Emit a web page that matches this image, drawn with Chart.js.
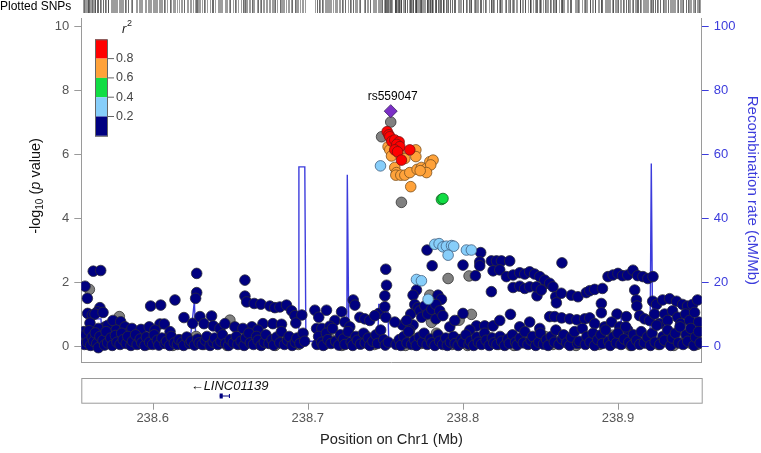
<!DOCTYPE html>
<html>
<head>
<meta charset="utf-8">
<script src="https://cdn.jsdelivr.net/npm/chart.js@4.4.0/dist/chart.umd.min.js"></script>
<style>
  body { margin: 0; background: #fff; }
  canvas { display: block; }
</style>
</head>
<body>
<canvas id="locus" width="761" height="453"></canvas>
<script>
// region shown (Mb on chr1)
var regionStart = 238.554, regionEnd = 238.954;
var xTicks = [238.6, 238.7, 238.8, 238.9];

// index SNP
var indexSnp = { name: 'rs559047', pos: 238.7535, logp: 7.34 };

// r2 legend
var r2Breaks = [0.2, 0.4, 0.6, 0.8];
var r2Colors = ['#000080', '#87CEFA', '#11DD44', '#FFA23A', '#FF0000'];

// SNPs by LD class: [position Mb, -log10 p]
var snpRed = [[238.7512,6.70],[238.7523,6.60],[238.7529,6.54],[238.7542,6.40],[238.7561,6.44],[238.7589,6.38],
  [238.7574,6.30],[238.7594,6.23],[238.7561,6.13],[238.7579,6.07],[238.7658,6.13],[238.7604,5.81]];

var snpOrange = [[238.7518,6.23],[238.7529,6.13],[238.7540,5.94],[238.7589,6.02],[238.7626,5.86],[238.7697,6.13],
  [238.7697,5.92],[238.7561,5.58],[238.7572,5.42],[238.7568,5.34],[238.7600,5.34],[238.7626,5.34],[238.7658,5.42],
  [238.7705,5.52],[238.7733,5.58],[238.7766,5.55],[238.7787,5.76],[238.7808,5.81],[238.7793,5.66],[238.7766,5.42],
  [238.7725,5.48],[238.7664,4.98]];

var snpGreen = [[238.7862,4.58],[238.7872,4.61]];

var snpLightBlue = [[238.7469,5.63],[238.7819,3.18],[238.7847,3.20],[238.7872,3.10],[238.7894,3.12],[238.7927,3.14],
  [238.7941,3.12],[238.7905,2.84],[238.8023,3.00],[238.8055,3.00],[238.7701,2.08],[238.7733,2.04],[238.7776,1.46]];

var snpGray = [[238.5592,1.77],[238.5785,0.92],[238.6498,0.81],[238.7604,4.49],[238.7905,2.11],[238.8040,2.19],
  [238.7798,0.74],[238.7976,0.81],[238.8055,0.99],[238.7535,7.00],[238.7476,6.54],[238.8968,0.34],[238.8646,0.19],
  [238.7787,1.59],
  [238.558,0.05],[238.563,0.20],[238.571,0.30],[238.575,0.08],[238.582,0.15],[238.591,0.12],[238.597,0.05],
  [238.602,0.25],[238.607,0.10],[238.613,0.02],[238.618,0.18],[238.623,0.08],[238.628,0.30],[238.633,0.05],
  [238.638,0.20],[238.643,0.10],[238.648,0.02],[238.653,0.15],[238.658,0.08],[238.664,0.25],[238.669,0.05],
  [238.674,0.15],[238.679,0.02],[238.684,0.20],[238.689,0.10],[238.694,0.05],[238.708,0.15],[238.711,0.05],
  [238.714,0.25],[238.719,0.10],[238.722,0.02],[238.727,0.20],[238.733,0.08],[238.738,0.30],[238.743,0.05],
  [238.748,0.15],[238.758,0.10],[238.763,0.02],[238.768,0.25],[238.773,0.08],[238.778,0.15],[238.783,0.40],
  [238.788,0.10],[238.793,0.05],[238.798,0.20],[238.803,0.02],[238.808,0.15],[238.813,0.08],[238.818,0.25],
  [238.823,0.05],[238.828,0.12],[238.833,0.02],[238.838,0.20],[238.843,0.08],[238.848,0.15],[238.853,0.30],
  [238.858,0.05],[238.863,0.12],[238.868,0.20],[238.873,0.02],[238.878,0.10],[238.883,0.25],[238.888,0.05],
  [238.893,0.15],[238.898,0.30],[238.903,0.08],[238.908,0.02],[238.913,0.20],[238.918,0.10],[238.921,0.30],
  [238.926,0.05],[238.931,0.15],[238.936,0.02],[238.941,0.25],[238.946,0.10],[238.951,0.05]];

var snpNavy = [
  // upper scatter
  [238.5564,1.87],[238.5579,1.49],[238.5617,2.34],[238.5665,2.36],[238.5660,1.20],[238.5643,1.07],[238.5581,1.02],
  [238.5611,0.97],[238.5628,1.00],[238.5680,1.05],[238.5693,0.60],[238.5650,0.55],[238.5596,0.72],[238.5557,0.45],
  [238.5712,0.65],[238.5744,0.80],[238.5794,0.76],[238.5764,0.50],[238.5822,0.60],[238.5843,0.40],[238.5867,0.55],
  [238.5925,0.52],[238.5978,0.60],[238.5987,1.25],[238.6052,1.28],[238.6047,0.69],[238.6075,0.69],[238.6015,0.50],
  [238.6144,1.44],[238.6112,0.45],[238.6202,0.89],[238.6284,2.27],[238.6284,1.67],[238.6277,1.49],[238.6258,0.71],
  [238.6305,0.92],[238.6331,0.70],[238.6380,0.94],[238.6391,0.63],[238.6434,0.55],[238.6466,0.70],[238.6530,0.60],
  [238.6595,2.06],[238.6595,1.56],[238.6606,1.38],[238.6655,1.33],[238.6698,1.31],[238.6756,1.25],[238.6788,1.20],
  [238.6820,1.22],[238.6863,1.28],[238.6711,0.70],[238.6775,0.70],[238.6831,0.68],[238.6896,1.10],[238.6917,0.95],
  [238.6962,0.97],[238.6923,0.72],[238.6640,0.60],[238.6679,0.50],[238.6582,0.55],
  [238.7046,1.12],[238.7121,1.12],[238.7218,1.07],[238.7293,1.44],[238.7304,1.28],[238.7458,1.02],[238.7057,0.55],
  [238.7091,0.55],[238.7175,0.80],[238.7239,0.75],[238.7336,0.90],[238.7368,0.85],[238.7400,0.80],[238.7432,0.95],
  [238.7271,0.60],[238.7142,0.62],[238.7071,0.90],[238.7503,2.40],[238.7508,1.90],[238.7497,1.57],[238.7497,1.23],
  [238.7503,0.90],[238.7701,1.75],[238.7679,1.59],[238.7840,1.59],[238.7862,1.46],[238.7611,0.66],[238.7679,0.66],
  [238.7769,3.00],[238.7802,2.51],[238.8115,2.92],[238.8001,2.53],[238.8109,2.63],[238.8109,2.51],[238.8081,2.20],
  [238.8184,2.66],[238.8217,2.66],[238.8249,2.66],[238.8302,2.66],[238.8195,2.35],[238.8238,2.38],[238.8281,2.17],
  [238.8324,2.22],[238.8367,2.29],[238.8399,2.25],[238.8431,2.32],[238.8463,2.25],[238.8496,2.17],[238.8539,1.96],
  [238.8324,1.83],[238.8367,1.87],[238.8399,1.80],[238.8431,1.85],[238.8478,1.57],[238.8184,1.70],[238.8001,1.02],
  [238.8088,0.63],[238.8141,0.63],[238.8195,0.63],[238.8307,0.99],
  [238.7664,1.00],[238.7690,1.30],[238.7710,1.20],[238.7723,1.10],[238.7735,0.90],[238.7755,1.25],[238.7774,1.00],
  [238.7800,1.15],[238.7826,1.30],[238.7826,0.85],[238.7851,1.10],[238.7871,0.95],[238.7638,0.80],[238.7657,0.50],
  [238.7561,0.75],[238.7916,0.60],[238.7948,0.80],[238.8045,0.50],[238.8238,0.80],[238.8367,0.60],[238.8431,0.75],
  [238.8496,0.55],
  [238.8639,2.60],[238.8936,2.17],[238.8968,2.22],[238.9000,2.27],[238.9030,2.20],[238.9063,2.22],[238.9097,2.37],
  [238.9127,2.20],[238.9161,2.17],[238.9193,2.11],[238.9226,2.17],[238.8528,2.06],[238.8560,1.96],[238.8581,1.85],
  [238.8474,1.85],[238.8506,1.75],[238.8599,1.54],[238.8603,1.35],[238.8635,1.65],[238.8700,1.59],[238.8742,1.54],
  [238.8796,1.67],[238.8818,1.73],[238.8850,1.77],[238.8900,1.80],[238.8893,1.33],[238.8893,1.04],[238.8994,1.00],
  [238.9054,0.92],[238.9108,1.75],[238.9119,1.44],[238.9122,1.25],[238.9140,0.95],[238.9172,0.85],
  [238.9224,1.40],[238.9249,1.30],[238.9288,1.44],[238.9333,1.48],[238.9378,1.40],[238.9417,1.30],[238.9449,1.25],
  [238.9481,1.30],[238.9513,1.44],[238.8560,0.92],[238.8592,0.92],[238.8637,0.88],[238.8689,0.85],[238.8735,0.82],
  [238.8786,0.85],[238.8818,0.88],[238.8850,0.70],[238.8914,0.60],[238.8959,0.75],[238.9011,0.60],[238.9063,0.50],
  [238.9204,0.80],[238.9236,1.00],[238.9268,0.70],[238.9301,1.00],[238.9320,0.80],[238.9352,1.10],[238.9385,0.90],
  [238.9404,0.70],[238.9436,1.00],[238.9462,0.80],[238.9494,1.05],[238.9520,0.75],
  // low band
  [238.555,0.22],[238.556,0.05],[238.557,0.35],[238.558,0.12],[238.559,0.48],[238.560,0.02],[238.561,0.28],
  [238.562,0.15],[238.563,0.41],[238.564,0.08],[238.565,-0.05],[238.566,0.30],[238.568,0.18],[238.569,0.03],
  [238.570,0.45],[238.571,0.10],[238.573,0.25],[238.574,0.02],[238.576,0.33],[238.577,0.12],[238.579,0.05],
  [238.580,0.40],[238.581,0.20],[238.583,0.08],[238.584,0.30],[238.586,0.02],[238.587,0.15],[238.589,0.35],
  [238.590,0.05],[238.592,0.22],[238.593,0.10],[238.595,0.02],[238.596,0.28],[238.598,0.12],[238.600,0.05],
  [238.601,0.35],[238.603,0.18],[238.604,0.03],[238.606,0.25],[238.608,0.08],[238.609,0.15],[238.611,0.02],
  [238.612,0.30],[238.614,0.10],[238.616,0.05],[238.617,0.20],[238.619,0.12],[238.620,0.02],[238.622,0.28],
  [238.624,0.08],[238.625,0.15],[238.627,0.03],[238.629,0.22],[238.630,0.10],[238.632,0.05],[238.634,0.18],
  [238.635,0.30],[238.637,0.02],[238.639,0.12],[238.640,0.25],[238.642,0.05],[238.644,0.15],[238.645,0.35],
  [238.647,0.08],[238.649,0.02],[238.650,0.20],[238.652,0.10],[238.654,0.30],[238.655,0.05],[238.657,0.15],
  [238.659,0.02],[238.660,0.25],[238.662,0.40],[238.663,0.10],[238.665,0.05],[238.667,0.30],[238.668,0.18],
  [238.670,0.02],[238.672,0.12],[238.673,0.35],[238.675,0.08],[238.677,0.20],[238.678,0.03],[238.680,0.28],
  [238.682,0.10],[238.683,0.45],[238.685,0.05],[238.687,0.18],[238.688,0.30],[238.690,0.02],[238.692,0.12],
  [238.693,0.25],[238.695,0.08],[238.697,0.40],[238.698,0.15],
  [238.706,0.05],[238.707,0.30],[238.709,0.12],[238.710,0.02],[238.712,0.40],[238.713,0.20],[238.715,0.08],
  [238.716,0.55],[238.718,0.15],[238.720,0.03],[238.721,0.35],[238.723,0.22],[238.724,0.05],[238.726,0.45],
  [238.728,0.12],[238.729,0.02],[238.731,0.30],[238.732,0.18],[238.734,0.06],[238.736,0.40],[238.737,0.10],
  [238.739,0.25],[238.740,0.02],[238.742,0.15],[238.744,0.35],[238.745,0.08],[238.747,0.50],[238.749,0.20],
  [238.750,0.03],[238.752,0.12],
  [238.757,0.05],[238.759,0.20],[238.760,0.02],[238.762,0.30],[238.764,0.10],[238.765,0.45],[238.767,0.05],
  [238.769,0.18],[238.770,0.02],[238.772,0.28],[238.774,0.12],[238.775,0.40],[238.777,0.05],[238.779,0.22],
  [238.780,0.10],[238.782,0.02],[238.784,0.35],[238.785,0.15],[238.787,0.05],[238.789,0.25],[238.790,0.02],
  [238.792,0.12],[238.794,0.30],[238.795,0.08],[238.797,0.02],[238.799,0.20],[238.800,0.10],[238.802,0.35],
  [238.804,0.05],[238.805,0.15],[238.807,0.02],[238.809,0.28],[238.810,0.12],[238.812,0.05],[238.814,0.40],
  [238.815,0.18],[238.817,0.02],[238.819,0.25],[238.820,0.10],[238.822,0.05],[238.824,0.30],[238.825,0.15],
  [238.827,0.02],[238.829,0.22],[238.830,0.08],[238.832,0.35],[238.834,0.12],[238.835,0.03],[238.837,0.25],
  [238.839,0.10],[238.840,0.45],[238.842,0.05],[238.844,0.18],[238.845,0.30],[238.847,0.02],[238.849,0.12],
  [238.850,0.40],[238.852,0.06],[238.854,0.20],[238.855,0.02],[238.857,0.30],[238.859,0.12],[238.860,0.50],
  [238.862,0.05],[238.864,0.22],[238.865,0.35],[238.867,0.10],[238.869,0.02],[238.870,0.28],[238.872,0.45],
  [238.874,0.08],[238.875,0.15],[238.877,0.55],[238.879,0.05],[238.880,0.30],[238.882,0.12],[238.884,0.40],
  [238.885,0.02],[238.887,0.20],[238.889,0.35],[238.890,0.08],[238.892,0.50],[238.894,0.15],[238.895,0.02],
  [238.897,0.28],[238.899,0.10],[238.900,0.40],[238.902,0.05],[238.904,0.22],[238.905,0.60],[238.907,0.12],
  [238.909,0.02],[238.910,0.35],[238.912,0.18],[238.914,0.05],[238.915,0.45],[238.917,0.10],[238.919,0.28],
  [238.921,0.02],[238.922,0.40],[238.924,0.12],[238.925,0.65],[238.927,0.05],[238.929,0.30],[238.930,0.18],
  [238.932,0.50],[238.934,0.02],[238.935,0.25],[238.937,0.40],[238.939,0.10],[238.940,0.60],[238.942,0.05],
  [238.944,0.35],[238.945,0.15],[238.947,0.55],[238.949,0.02],[238.950,0.28],[238.952,0.45],[238.953,0.10]
];

// recombination rate (cM/Mb)
var recombPos = [238.554, 238.5615, 238.5622, 238.5667, 238.5673, 238.6240, 238.6269, 238.6279, 238.6940, 238.6943,
  238.6981, 238.6988, 238.7252, 238.7255, 238.7265, 238.7452, 238.7458, 238.7516, 238.7523, 238.8882, 238.9011,
  238.9021, 238.9027, 238.9207, 238.9215, 238.9224, 238.954];
var recombRate = [0.8, 0.8, 8.5, 8.5, 1.0, 1.0, 14, 1.0, 1.0, 56,
  56, 1.5, 1.5, 53.5, 3, 3, 13, 13, 0.5, 0.8, 0.8,
  9, 0.8, 1, 57, 1, 0.5];

// gene track
var geneName = 'LINC01139';
var geneStart = 238.6432, geneEnd = 238.6495, exonEnd = 238.6452;

var FONT = '"Liberation Sans", Arial, Helvetica, sans-serif';
var BLUE = '#3c3cdc';

function pts(arr) {
  return arr.map(function (d) { return { x: d[0], y: d[1] }; });
}
function recombPts() {
  return recombPos.map(function (p, i) { return { x: p, y: recombRate[i] }; });
}

var extras = {
  id: 'extras',
  afterDraw: function (chart) {
    var c = chart.ctx, xs = chart.scales.x, ys = chart.scales.y, area = chart.chartArea;
    c.save();

    // rug of plotted SNPs
    c.fillStyle = '#000';
    c.font = '12px ' + FONT;
    c.textBaseline = 'middle';
    c.textAlign = 'left';
    c.fillText('Plotted SNPs', 0, 6.5);
    c.strokeStyle = 'rgba(60,60,60,0.5)';
    c.lineWidth = 1;
    [snpNavy, snpGray, snpLightBlue, snpGreen, snpOrange, snpRed].forEach(function (set) {
      set.forEach(function (d) {
        var px = Math.round(xs.getPixelForValue(d[0])) + 0.5;
        c.beginPath(); c.moveTo(px, 0); c.lineTo(px, 13); c.stroke();
      });
    });

    // index SNP label
    c.fillStyle = '#000';
    c.font = '12px ' + FONT;
    c.textAlign = 'center';
    c.fillText(indexSnp.name, xs.getPixelForValue(indexSnp.pos) + 2, ys.getPixelForValue(indexSnp.logp) - 14);

    // r2 colour bar
    var bx = 95, bw = 12, bh = 19.3, btop = 39.3;
    for (var i = 0; i < r2Colors.length; i++) {
      c.fillStyle = r2Colors[r2Colors.length - 1 - i];
      c.fillRect(bx, btop + i * bh, bw, bh);
    }
    c.strokeStyle = '#666';
    c.strokeRect(bx + 0.5, btop + 0.5, bw, bh * 5);
    c.fillStyle = '#444';
    c.font = '12.5px ' + FONT;
    c.textAlign = 'left';
    for (var j = 0; j < r2Breaks.length; j++) {
      var yy = btop + (r2Breaks.length - j) * bh;
      c.strokeStyle = '#666';
      c.beginPath(); c.moveTo(bx + bw, yy); c.lineTo(bx + bw + 7, yy); c.stroke();
      c.fillText(r2Breaks[j].toFixed(1), bx + bw + 9, yy);
    }
    c.font = 'italic 13px ' + FONT;
    c.fillStyle = '#222';
    c.fillText('r', 122, 29);
    c.font = '9px ' + FONT;
    c.fillText('2', 127, 24);

    // left axis title with subscript and italic p
    c.save();
    c.translate(36, 186);
    c.rotate(-Math.PI / 2);
    c.fillStyle = '#111';
    var parts = [
      ['-log', '14.5px ' + FONT, 0],
      ['10', '10px ' + FONT, 4],
      [' (', '14.5px ' + FONT, 0],
      ['p', 'italic 14.5px ' + FONT, 0],
      [' value)', '14.5px ' + FONT, 0]
    ];
    var total = 0;
    parts.forEach(function (p) { c.font = p[1]; total += c.measureText(p[0]).width; });
    var x0 = -total / 2;
    c.textAlign = 'left';
    c.textBaseline = 'middle';
    parts.forEach(function (p) {
      c.font = p[1];
      c.fillText(p[0], x0, p[2]);
      x0 += c.measureText(p[0]).width;
    });
    c.restore();

    // gene panel
    var gTop = 378, gBot = 402.7;
    c.strokeStyle = '#9a9a9a';
    c.lineWidth = 1;
    c.strokeRect(area.left + 0.5, gTop + 0.5, area.right - area.left, gBot - gTop);
    xTicks.forEach(function (t) {
      var px = Math.round(xs.getPixelForValue(t)) + 0.5;
      c.beginPath(); c.moveTo(px, gBot + 0.5); c.lineTo(px, gBot + 7); c.stroke();
    });
    var g0 = xs.getPixelForValue(geneStart), g1 = xs.getPixelForValue(geneEnd), e1 = xs.getPixelForValue(exonEnd);
    c.strokeStyle = '#000080';
    c.beginPath(); c.moveTo(g0, 396); c.lineTo(g1, 396); c.stroke();
    c.beginPath(); c.moveTo(g1, 394); c.lineTo(g1, 398); c.stroke();
    c.fillStyle = '#000080';
    c.fillRect(g0, 393.5, e1 - g0, 5);
    c.fillStyle = '#111';
    c.font = 'italic 13px ' + FONT;
    c.textAlign = 'center';
    c.fillText('\u2190' + geneName, (g0 + g1) / 2 + 5, 386.5);

    c.restore();
  }
};

var dotStyle = function (fill, border) {
  return { backgroundColor: fill, borderColor: border, borderWidth: 0.8, pointRadius: 5.3, pointHoverRadius: 5.3 };
};

new Chart(document.getElementById('locus'), {
  type: 'scatter',
  data: {
    datasets: [
      Object.assign({ label: 'index', data: [{ x: indexSnp.pos, y: indexSnp.logp }], order: 1, pointStyle: 'rectRot' },
        dotStyle('#7B2FC6', '#3a2060'), { pointRadius: 6.5 }),
      Object.assign({ label: 'r2 0.8-1', data: pts(snpRed), order: 2 }, dotStyle(r2Colors[4], '#7a1010')),
      Object.assign({ label: 'r2 0.6-0.8', data: pts(snpOrange), order: 3 }, dotStyle(r2Colors[3], '#7a5020')),
      Object.assign({ label: 'r2 0.4-0.6', data: pts(snpGreen), order: 4 }, dotStyle(r2Colors[2], '#106020')),
      Object.assign({ label: 'r2 0.2-0.4', data: pts(snpLightBlue), order: 5 }, dotStyle(r2Colors[1], '#406080')),
      Object.assign({ label: 'r2 0-0.2', data: pts(snpNavy), order: 6 }, dotStyle(r2Colors[0], '#2a2a3a')),
      Object.assign({ label: 'no r2', data: pts(snpGray), order: 7 }, dotStyle('#808080', '#333')),
      {
        label: 'Recombination rate', type: 'line', data: recombPts(), yAxisID: 'y2', order: 10,
        borderColor: BLUE, borderWidth: 1.4, pointRadius: 0, fill: false, tension: 0
      }
    ]
  },
  options: {
    responsive: false,
    animation: false,
    events: [],
    layout: { padding: { top: 18, left: 0, right: 0, bottom: 0 } },
    plugins: { legend: { display: false }, tooltip: { enabled: false } },
    scales: {
      x: {
        type: 'linear', position: 'bottom', min: regionStart, max: regionEnd,
        afterFit: function (s) { s.height = 90.3; },
        afterBuildTicks: function (s) { s.ticks = xTicks.map(function (v) { return { value: v }; }); },
        ticks: { padding: 47.5, color: '#555', font: { family: FONT, size: 13 },
          callback: function (v) { return Number(v).toFixed(1); } },
        grid: { display: false, drawTicks: false },
        border: { display: true, color: '#9a9a9a' },
        title: { display: true, text: 'Position on Chr1 (Mb)', color: '#222', font: { family: FONT, size: 14.7 },
          padding: { top: 0, bottom: 4.5 } }
      },
      y: {
        position: 'left', min: -0.52, max: 10.25,
        afterFit: function (s) { s.width = 81.3; },
        ticks: { stepSize: 2, includeBounds: false, padding: 5, color: '#555', font: { family: FONT, size: 13 } },
        grid: { drawOnChartArea: false, drawTicks: true, tickLength: 7, color: '#9a9a9a' },
        border: { display: true, color: '#9a9a9a' }
      },
      y2: {
        position: 'right', min: -5.2, max: 102.5,
        afterFit: function (s) { s.width = 59.3; },
        ticks: { stepSize: 20, includeBounds: false, padding: 5, color: BLUE, font: { family: FONT, size: 13 } },
        grid: { drawOnChartArea: false, drawTicks: true, tickLength: 7, color: BLUE },
        border: { display: true, color: '#9a9a9a' },
        title: { display: true, text: 'Recombination rate (cM/Mb)', color: BLUE, font: { family: FONT, size: 15 },
          padding: { top: 0, bottom: 0 } }
      }
    }
  },
  plugins: [extras]
});
</script>
</body>
</html>
